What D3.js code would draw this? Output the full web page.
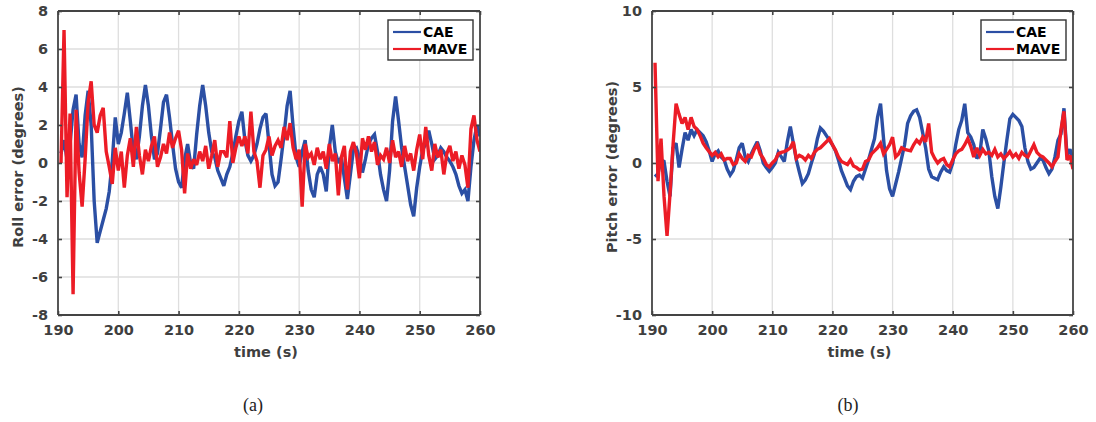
<!DOCTYPE html>
<html>
<head>
<meta charset="utf-8">
<script src="https://cdn.jsdelivr.net/npm/d3@7"></script>
<style>
  body { margin: 0; background: #fff; }
  svg { display: block; }
</style>
</head>
<body>
<svg id="fig" width="1096" height="422"></svg>
<script>
// Sample times: first sample and spacing, in seconds
const tStart = 190.5;
const tStep = 0.5;

// Roll error (degrees), one value every 0.5 s from 190.5 s to 260 s
const rollCAE = [
  0.5, 1.2, 0.2, 1.0, 2.8, 3.6, 1.0, 0.3, 2.5, 3.8,
  2.0, -2.0, -4.2, -3.6, -3.0, -2.4, -1.5, 0.1, 2.4, 1.0,
  1.6, 2.6, 3.7, 2.2, 0.6, 0.2, 1.4, 3.0, 4.1, 3.0,
  1.4, 0.2, 0.5, 1.8, 3.2, 3.6, 2.4, 1.0, -0.3, -1.0,
  -1.3, 0.2, 1.0, 0.0, -0.3, 1.5, 3.0, 4.1, 3.0, 1.6,
  0.6, 0.3, -0.4, -0.8, -1.2, -0.6, -0.2, 0.5, 1.4, 2.2,
  2.7, 1.2, 0.4, 0.1, 0.4, 1.0, 1.8, 2.4, 2.6, 1.0,
  -0.6, -1.2, -1.0, 0.2, 1.5, 3.0, 3.8, 1.9, 0.3, -0.2,
  0.6, 1.2, -0.4, -1.4, -1.8, -0.6, -0.2, -0.6, -1.5, 0.8,
  2.0, 0.6, 0.0, 0.3, -0.8, -1.9, -0.6, 0.7, 0.8, 0.3,
  -0.5, 0.2, 1.0, 1.3, 1.5, 0.6, -0.6, -1.4, -2.0, -0.4,
  2.2, 3.5, 2.2, 0.8, -0.2, -1.2, -2.2, -2.8, -1.3, -0.2,
  0.7, 1.0, 1.7, 1.0, 0.2, 0.4, 0.8, 0.6, 0.3, 0.1,
  -0.2, -0.6, -1.2, -1.6, -1.4, -2.0, -0.2, 1.2, 2.0, 1.4
];
const rollMAVE = [
  0.0, 7.0, -1.8, 2.6, -6.9, 2.8, -0.5, -2.3, 0.2, 3.2,
  4.3, 2.0, 1.6, 2.5, 2.9, 0.6, -0.2, -1.1, 0.8, -0.4,
  0.6, -1.3, 0.4, 1.3, -0.2, 1.9, 0.4, -0.6, 0.7, 0.1,
  0.9, 1.4, -0.2, 0.3, 1.0, 0.5, 1.6, 0.8, 1.3, 1.7,
  0.7, -1.6, 0.5, -0.3, 0.2, -0.1, 0.6, 0.1, 0.9, -0.3,
  0.4, 1.2, -0.2, 0.6, 0.6, 0.3, 2.2, 0.0, 0.8, 1.4,
  0.9, 1.4, 0.5, 2.7, 0.6, 0.1, -1.3, 0.4, 0.7, 1.4,
  0.4, 0.9, 1.2, 0.8, 1.9, 1.2, 2.1, 0.8, 0.2, 0.7,
  -2.3, 1.0, 0.3, 0.5, -0.1, 0.8, 0.2, 0.6, -0.3, 1.0,
  0.1, 0.5, -1.7, 0.3, 0.9, -1.4, 0.6, 1.1, 0.5, -0.8,
  1.3, 0.7, 1.4, 0.6, 1.1, -0.1, 0.4, 0.2, 0.8, 0.0,
  1.2, 0.3, 0.6, -0.2, 0.9, 0.1, 0.5, -0.4, 0.7, 1.5,
  0.2, 1.9, 0.4, -0.4, 1.0, 0.3, 0.7, -0.6, 0.5, 0.9,
  0.1, 0.6, -0.3, 0.4, -0.1, -1.3, 1.8, 2.5, 1.2, 0.6
];

// Pitch error (degrees), same sample times
const pitchCAE = [
  -0.9, -0.7, 0.2, 0.1, -1.2, -2.2, 1.0, 1.3, -0.3, 0.9,
  2.0, 1.5, 2.2, 1.8, 2.2, 2.0, 1.8, 1.4, 0.8, 0.1,
  0.6, 0.8, 0.4, 0.2, -0.4, -0.8, -0.5, 0.2, 1.0, 1.3,
  0.4, 0.1, 0.6, 1.0, 1.4, 0.8, 0.0, -0.3, -0.55, -0.3,
  0.0, 0.7, 0.4, 0.1, 1.4, 2.4, 1.3, 0.2, -0.6, -1.35,
  -1.1, -0.7, 0.0, 0.6, 1.6, 2.3, 2.1, 1.8, 1.5, 1.2,
  0.8, 0.2, -0.5, -1.0, -1.5, -1.75, -1.2, -0.9, -0.8, -1.0,
  -0.4, 0.2, 0.9, 1.6, 3.0, 3.9, 1.6, -0.5, -1.7, -2.2,
  -1.4, -0.6, 0.3, 1.2, 2.6, 3.1, 3.4, 3.5, 3.0, 2.0,
  1.0, -0.4, -0.9, -1.0, -1.1, -0.6, -0.25, -0.5, -0.6, 0.0,
  1.2, 2.2, 2.8, 3.9, 2.0, 1.7, 1.2, 0.3, 0.6, 2.2,
  1.6, 0.8, -0.9, -2.2, -3.0, -1.6, 0.0, 1.5, 2.9, 3.2,
  3.0, 2.8, 2.4, 1.0, 0.1, -0.4, -0.3, 0.0, 0.3, 0.2,
  -0.3, -0.7, -0.4, 0.4, 1.5, 1.9, 3.6, 0.5, 0.9, 0.2
];
const pitchMAVE = [
  6.6, -1.2, 1.6, -2.2, -4.8, -2.0, 1.2, 3.9, 3.2, 2.6,
  3.0, 2.2, 3.0, 2.4, 2.2, 1.8, 1.3, 1.0, 0.75, 0.5,
  0.7, 0.4, 0.6, 0.2, 0.3, 0.3, -0.1, 0.0, 0.6, 0.3,
  0.1, 0.5, 0.4, 0.9, 1.2, 0.6, 0.3, -0.1, -0.25, 0.0,
  0.2, 0.6, 0.7, 0.75, 0.85, 1.0, 1.4, 0.3, 0.5, 0.4,
  0.2, 0.5, 0.3, 0.7, 0.9, 1.0, 1.2, 1.4, 1.6, 1.2,
  0.85, 0.4, 0.1, 0.0, -0.1, 0.2, -0.2, -0.3, -0.45, -0.4,
  0.1, 0.2, 0.6, 0.8, 1.0, 1.3, 0.6, 0.9, 1.2, 1.7,
  0.4, 0.6, 1.0, 0.9, 0.85, 0.8, 1.2, 1.5, 1.3, 1.7,
  1.4, 2.6, 0.7, 0.3, 0.0, 0.2, 0.3, -0.1, -0.25, 0.2,
  0.6, 0.8, 0.9, 1.2, 1.6, 1.1, 0.4, 1.0, 0.5, 0.9,
  0.6, 0.7, 0.5, 0.9, 0.4, 0.6, 0.3, 0.5, 0.75, 0.4,
  0.6, 0.3, 0.7, 0.5, 0.4, 0.8, 1.2, 0.7, 0.5, 0.4,
  0.2, 0.0, -0.25, 0.1, 0.4, 2.2, 3.4, 0.2, 0.5, -0.4
];

// Axis ticks and labels
const timeTicks = [190, 200, 210, 220, 230, 240, 250, 260];
const rollTicks = [-8, -6, -4, -2, 0, 2, 4, 6, 8];
const pitchTicks = [-10, -5, 0, 5, 10];
const seriesNames = ["CAE", "MAVE"];
const seriesColors = ["#2b4fa4", "#ec1c26"];
const xLabel = "time (s)";
const captions = ["(a)", "(b)"];

const svg = d3.select("#fig");
const SANS = "'DejaVu Sans', sans-serif";
const AXIS_COLOR = "#444";
const TICK_TEXT = "#3f3f3f";
const plainNumber = d => String(d);

function drawPanel(cfg) {
  const { left, right, top, bottom, yDomain, yTicks, yLabel, series, id, caption } = cfg;
  const x = d3.scaleLinear().domain([timeTicks[0], timeTicks[timeTicks.length - 1]]).range([left, right]);
  const y = d3.scaleLinear().domain(yDomain).range([bottom, top]);
  const g = svg.append("g");

  // grid
  const grid = g.append("g").attr("stroke", "#dedede").attr("stroke-width", 1.3);
  grid.selectAll("line.vx").data(timeTicks.slice(1, -1)).join("line")
    .attr("x1", d => x(d)).attr("x2", d => x(d)).attr("y1", top).attr("y2", bottom);
  grid.selectAll("line.hy").data(yTicks.slice(1, -1)).join("line")
    .attr("y1", d => y(d)).attr("y2", d => y(d)).attr("x1", left).attr("x2", right);

  // clip for data lines
  g.append("clipPath").attr("id", "clip-" + id)
    .append("rect").attr("x", left).attr("y", top).attr("width", right - left).attr("height", bottom - top);

  const line = d3.line()
    .x((d, i) => x(tStart + i * tStep))
    .y(d => y(d));

  series.forEach((vals, k) => {
    g.append("path")
      .attr("clip-path", `url(#clip-${id})`)
      .attr("d", line(vals))
      .attr("fill", "none")
      .attr("stroke", seriesColors[k])
      .attr("stroke-width", 3.4)
      .attr("stroke-linejoin", "miter")
      .attr("stroke-miterlimit", 2.5);
  });

  // axes with inward ticks on all four sides
  const tickLen = 4;
  const xAxisB = d3.axisBottom(x).tickValues(timeTicks).tickSize(-tickLen).tickPadding(10).tickFormat(plainNumber);
  const xAxisT = d3.axisTop(x).tickValues(timeTicks).tickSize(-tickLen).tickFormat("");
  const yAxisL = d3.axisLeft(y).tickValues(yTicks).tickSize(-tickLen).tickPadding(10).tickFormat(plainNumber);
  const yAxisR = d3.axisRight(y).tickValues(yTicks).tickSize(-tickLen).tickFormat("");

  const styleAxis = sel => {
    sel.selectAll("path.domain").attr("stroke", AXIS_COLOR).attr("stroke-width", 1.8);
    sel.selectAll(".tick line").attr("stroke", AXIS_COLOR).attr("stroke-width", 1.6);
    sel.selectAll(".tick text")
      .attr("fill", TICK_TEXT)
      .style("font-family", SANS)
      .style("font-weight", "bold")
      .style("font-size", "14.5px");
  };

  g.append("g").attr("transform", `translate(0,${bottom})`).call(xAxisB).call(styleAxis)
    .call(s => s.selectAll("path.domain").attr("d", `M${left},0H${right}`));
  g.append("g").attr("transform", `translate(0,${top})`).call(xAxisT).call(styleAxis)
    .call(s => s.selectAll("path.domain").attr("d", `M${left},0H${right}`));
  g.append("g").attr("transform", `translate(${left},0)`).call(yAxisL).call(styleAxis)
    .call(s => s.selectAll("path.domain").attr("d", `M0,${bottom}V${top}`));
  g.append("g").attr("transform", `translate(${right},0)`).call(yAxisR).call(styleAxis)
    .call(s => s.selectAll("path.domain").attr("d", `M0,${bottom}V${top}`));

  // axis labels
  g.append("text")
    .attr("x", (left + right) / 2 - 3).attr("y", bottom + 42)
    .attr("text-anchor", "middle")
    .attr("fill", TICK_TEXT)
    .style("font-family", SANS).style("font-weight", "bold").style("font-size", "14.5px")
    .text(xLabel);
  g.append("text")
    .attr("transform", `translate(${left - 35},${(top + bottom) / 2 + 4}) rotate(-90)`)
    .attr("text-anchor", "middle")
    .attr("fill", TICK_TEXT)
    .style("font-family", SANS).style("font-weight", "bold").style("font-size", "14.5px")
    .text(yLabel);

  // legend
  const lgW = 85, lgH = 40;
  const lgX = right - 7 - lgW, lgY = top + 9;
  const lg = g.append("g").attr("transform", `translate(${lgX},${lgY})`);
  lg.append("rect").attr("width", lgW).attr("height", lgH)
    .attr("fill", "#fff").attr("stroke", "#333").attr("stroke-width", 1.4);
  seriesNames.forEach((name, k) => {
    const yy = 12 + k * 17;
    lg.append("line").attr("x1", 5).attr("x2", 33).attr("y1", yy).attr("y2", yy)
      .attr("stroke", seriesColors[k]).attr("stroke-width", 2.2);
    lg.append("text").attr("x", 35).attr("y", yy + 5)
      .attr("fill", "#000")
      .style("font-family", SANS).style("font-weight", "bold").style("font-size", "14px")
      .text(name);
  });

  // sub-figure caption
  svg.append("text")
    .attr("x", caption.x).attr("y", 411)
    .attr("text-anchor", "middle")
    .attr("fill", "#222")
    .style("font-family", "'Liberation Serif', serif")
    .style("font-size", "18px")
    .text(caption.text);
}

drawPanel({
  id: "roll", left: 58, right: 480, top: 11, bottom: 315,
  yDomain: [rollTicks[0], rollTicks[rollTicks.length - 1]], yTicks: rollTicks,
  yLabel: "Roll error (degrees)", series: [rollCAE, rollMAVE],
  caption: { x: 253, text: captions[0] }
});
drawPanel({
  id: "pitch", left: 652, right: 1073, top: 11, bottom: 315,
  yDomain: [pitchTicks[0], pitchTicks[pitchTicks.length - 1]], yTicks: pitchTicks,
  yLabel: "Pitch error (degrees)", series: [pitchCAE, pitchMAVE],
  caption: { x: 848, text: captions[1] }
});
</script>
</body>
</html>
